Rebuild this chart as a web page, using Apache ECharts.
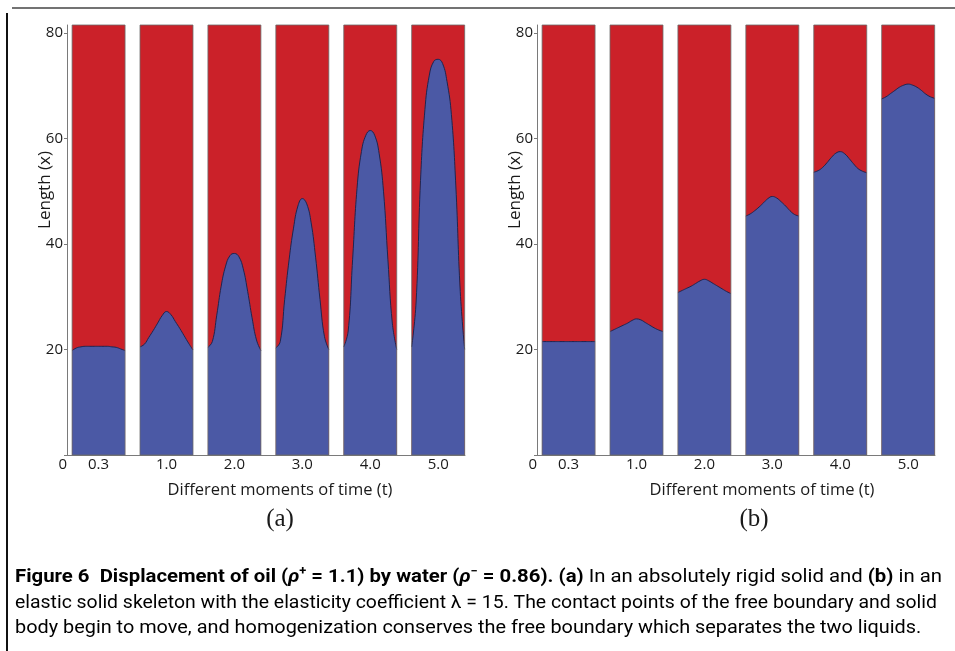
<!DOCTYPE html>
<html><head><meta charset="utf-8">
<script src="https://cdn.jsdelivr.net/npm/echarts@6/dist/echarts.min.js"></script>
<style>html,body{margin:0;padding:0;background:#fff}#c{width:955px;height:651px}</style>
</head><body><div id="c"></div>
<script>
// ---------------- data ----------------
const timeLabels = ['0.3', '1.0', '2.0', '3.0', '4.0', '5.0'];
const originLabel = '0';
const yTickValues = [0, 20, 40, 60, 80];
const yMax = 81.5;

// interface height (x) sampled evenly across each column, left edge -> right edge
// (a) absolutely rigid solid
const rigidT03 = [19.8, 20.3, 20.5, 20.6, 20.6, 20.6, 20.6, 20.6, 20.6, 20.5, 20.4, 20.1, 19.8];
const rigidT10 = [20.5, 21.0, 22.3, 23.6, 25.0, 26.4, 27.2, 26.6, 25.3, 24.0, 22.6, 21.2, 19.9];
const rigidT20 = [20.4, 21.5, 26.5, 32.0, 35.8, 37.8, 38.2, 37.6, 35.3, 31.0, 26.0, 21.8, 19.8];
const rigidT30 = [20.3, 21.5, 29.5, 37.0, 43.0, 47.2, 48.6, 47.6, 44.0, 37.5, 29.5, 22.5, 20.0];
const rigidT40 = [20.5, 23.5, 37.0, 50.5, 57.5, 60.6, 61.5, 60.6, 57.2, 50.0, 37.0, 25.0, 20.0];
const rigidT50 = [20.5, 29.0, 52.0, 65.5, 72.0, 74.6, 75.0, 74.2, 70.8, 64.5, 51.0, 31.0, 20.0];
// (b) elastic solid skeleton
const elasticT03 = [21.5, 21.5, 21.5, 21.5, 21.5, 21.5, 21.5, 21.5, 21.5, 21.5, 21.5, 21.5, 21.5];
const elasticT10 = [23.4, 23.8, 24.2, 24.6, 25.0, 25.5, 25.8, 25.6, 25.1, 24.6, 24.1, 23.7, 23.4];
const elasticT20 = [30.8, 31.2, 31.6, 32.0, 32.5, 33.0, 33.3, 33.0, 32.5, 32.0, 31.5, 31.0, 30.6];
const elasticT30 = [45.3, 45.7, 46.3, 47.0, 47.8, 48.6, 49.0, 48.7, 48.0, 47.2, 46.3, 45.6, 45.3];
const elasticT40 = [53.6, 53.9, 54.5, 55.4, 56.4, 57.2, 57.5, 57.1, 56.2, 55.2, 54.3, 53.8, 53.5];
const elasticT50 = [67.5, 67.9, 68.5, 69.1, 69.7, 70.1, 70.3, 70.1, 69.7, 69.1, 68.4, 67.9, 67.6];

const panels = [
  [rigidT03, rigidT10, rigidT20, rigidT30, rigidT40, rigidT50],
  [elasticT03, elasticT10, elasticT20, elasticT30, elasticT40, elasticT50]
];

const captionLines = [
  [['b', 'Figure 6  Displacement of oil ('], ['bi', 'ρ'], ['bsup', '+'], ['b', ' = 1.1) by water ('], ['bi', 'ρ'], ['bsup', '−'], ['b', ' = 0.86). (a)'], ['r', ' In an absolutely rigid solid and '], ['b', '(b)'], ['r', ' in an']],
  [['r', 'elastic solid skeleton with the elasticity coefficient λ = 15. The contact points of the free boundary and solid']],
  [['r', 'body begin to move, and homogenization conserves the free boundary which separates the two liquids.']]
];

// ---------------- layout / style ----------------
const RED = '#CB2129', BLUE = '#4B59A5', LINE = '#1e2550', AX = '#7a7a7a', TXT = '#1a1a1a';
const FONT = 'Open Sans';
const X_MAX = 5.86, C0 = 0.465, HW = 0.39;
const centers = timeLabels.map((_, i) => C0 + i);
const gridLefts = [67, 537];

const series = [], grids = [], xAxes = [], yAxes = [];
gridLefts.forEach((left, g) => {
  grids.push({left: left, top: 25, width: 398, height: 430, containLabel: false, outerBoundsMode: 'none'});
  xAxes.push({
    type: 'value', gridIndex: g, min: 0, max: X_MAX,
    axisLine: {show: true, onZero: false, lineStyle: {color: AX, width: 1}},
    axisTick: {show: false}, splitLine: {show: false},
    axisLabel: {
      customValues: [0].concat(centers), alignMinLabel: 'right',
      color: TXT, fontSize: 15, fontFamily: FONT, margin: 2,
      formatter: v => {
        if (Math.abs(v) < 1e-9) return originLabel;
        const i = centers.findIndex(c => Math.abs(c - v) < 1e-6);
        return i >= 0 ? timeLabels[i] : '';
      }
    }
  });
  yAxes.push({
    type: 'value', gridIndex: g, min: 0, max: yMax,
    axisLine: {show: true, lineStyle: {color: AX, width: 1}},
    axisTick: {show: true, length: 3, lineStyle: {color: AX}, customValues: yTickValues},
    splitLine: {show: false},
    axisLabel: {customValues: yTickValues.filter(v => v > 0), color: TXT, fontSize: 15, fontFamily: FONT, margin: 4}
  });
  // red columns (oil), full height
  series.push({
    type: 'custom', xAxisIndex: g, yAxisIndex: g, z: 1, silent: true,
    data: centers.map(c => [c, yMax]),
    renderItem: (params, api) => {
      const c = api.value(0);
      const p0 = api.coord([c - HW, api.value(1)]), p1 = api.coord([c + HW, 0]);
      return {type: 'rect', shape: {x: p0[0], y: p0[1], width: p1[0] - p0[0], height: p1[1] - p0[1]}, style: {fill: RED}};
    }
  });
  // blue water regions under the free boundary
  panels[g].forEach((prof, i) => {
    const n = prof.length;
    series.push({
      type: 'line', xAxisIndex: g, yAxisIndex: g, z: 2, silent: true,
      smooth: 0.45, symbol: 'none',
      lineStyle: {color: LINE, width: 1},
      areaStyle: {color: BLUE, opacity: 1},
      data: prof.map((v, k) => [centers[i] - HW + k * 2 * HW / (n - 1), v])
    });
  });
  // column outlines
  series.push({
    type: 'custom', xAxisIndex: g, yAxisIndex: g, z: 3, silent: true,
    data: centers.map(c => [c, yMax]),
    renderItem: (params, api) => {
      const c = api.value(0);
      const p0 = api.coord([c - HW, api.value(1)]), p1 = api.coord([c + HW, 0]);
      return {type: 'rect', shape: {x: p0[0], y: p0[1], width: p1[0] - p0[0], height: p1[1] - p0[1]}, style: {fill: 'none', stroke: '#6b6b6b', lineWidth: 0.8}};
    }
  });
});

// ---------------- caption measurement ----------------
const CAPF = 'Roboto', CAPS = 19;
const capStyles = {
  r: {fontFamily: CAPF, fontSize: CAPS, fontWeight: 'normal', color: '#231f20'},
  b: {fontFamily: CAPF, fontSize: CAPS, fontWeight: 'bold', color: '#231f20'},
  bi: {fontFamily: CAPF, fontSize: CAPS, fontWeight: 'bold', fontStyle: 'italic', color: '#231f20'},
  bsup: {fontFamily: CAPF, fontSize: 12, fontWeight: 'bold', color: '#231f20', verticalAlign: 'top'}
};
const ctx = document.createElement('canvas').getContext('2d');
function lineWidth(line) {
  let w = 0;
  line.forEach(([s, t]) => {
    const st = capStyles[s];
    ctx.font = (st.fontStyle || 'normal') + ' ' + st.fontWeight + ' ' + st.fontSize + 'px ' + st.fontFamily;
    w += ctx.measureText(t).width;
  });
  return w;
}
const targets = [927, 922];
const sc1 = targets[0] / lineWidth(captionLines[0]);
const sc2 = targets[1] / lineWidth(captionLines[1]);
const scales = [sc1, sc2, (sc1 + sc2) / 2];
const capY = [577, 603, 628];
const esc = t => t.replace(/[{}|]/g, '');
const captionGraphics = captionLines.map((line, i) => ({
  type: 'text', x: 15, y: capY[i], scaleX: scales[i], scaleY: 1,
  style: {
    text: line.map(([s, t]) => '{' + s + '|' + esc(t) + '}').join(''),
    rich: capStyles, align: 'left', verticalAlign: 'middle', lineHeight: 22
  }
}));

const graphic = [
  {type: 'line', shape: {x1: 12, y1: 8, x2: 955, y2: 8}, style: {stroke: '#444', lineWidth: 1.3}},
  {type: 'line', shape: {x1: 7, y1: 13, x2: 7, y2: 651}, style: {stroke: '#111', lineWidth: 2}},
  {type: 'text', x: 45, y: 190, rotation: Math.PI / 2, style: {text: 'Length (x)', font: '17px "' + FONT + '"', fill: TXT, align: 'center', verticalAlign: 'middle'}},
  {type: 'text', x: 515, y: 190, rotation: Math.PI / 2, style: {text: 'Length (x)', font: '17px "' + FONT + '"', fill: TXT, align: 'center', verticalAlign: 'middle'}},
  {type: 'text', x: 280, y: 490, style: {text: 'Different moments of time (t)', font: '16.5px "' + FONT + '"', fill: TXT, align: 'center', verticalAlign: 'middle'}},
  {type: 'text', x: 762, y: 490, style: {text: 'Different moments of time (t)', font: '16.5px "' + FONT + '"', fill: TXT, align: 'center', verticalAlign: 'middle'}},
  {type: 'text', x: 280, y: 519, style: {text: '(a)', font: '25px "Liberation Serif"', fill: TXT, align: 'center', verticalAlign: 'middle'}},
  {type: 'text', x: 754, y: 519, style: {text: '(b)', font: '25px "Liberation Serif"', fill: TXT, align: 'center', verticalAlign: 'middle'}}
].concat(captionGraphics);

const chart = echarts.init(document.getElementById('c'), null, {renderer: 'canvas'});
chart.setOption({
  animation: false,
  backgroundColor: '#fff',
  grid: grids, xAxis: xAxes, yAxis: yAxes, series: series, graphic: graphic
});
</script></body></html>
